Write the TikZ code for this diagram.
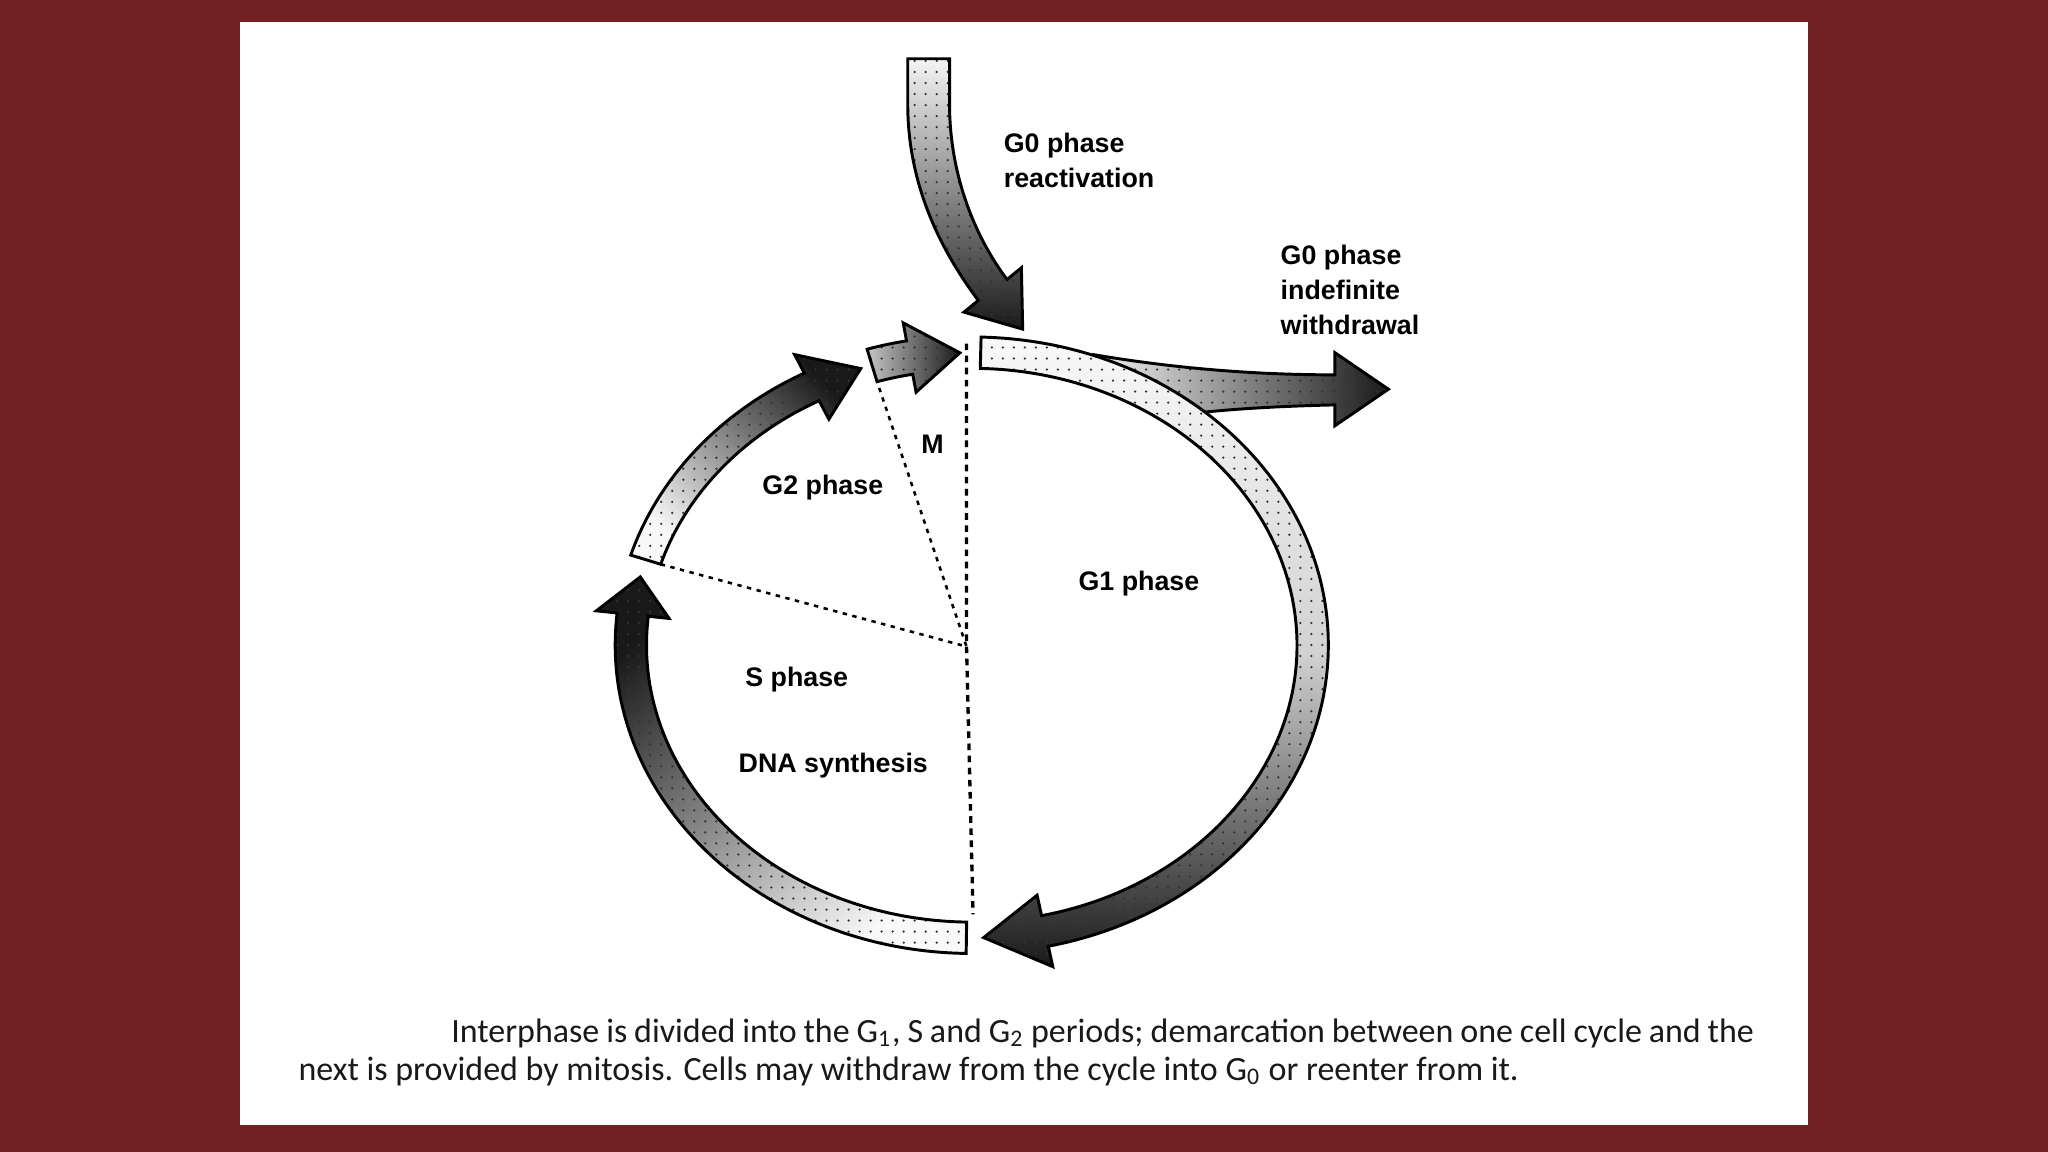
\documentclass[tikz,border=0pt]{standalone}
\usepackage{fontspec}
\setmainfont{Liberation Sans}
\newfontfamily\captionfont{Carlito}
\usetikzlibrary{patterns.meta}
\definecolor{framered}{RGB}{115,32,35}

\begin{document}
\begin{tikzpicture}[
        x=0.0125cm, y=-0.0125cm,
        phasetext/.style={font=\bfseries\fontsize{7.3}{9.6}\selectfont, align=left, inner sep=0pt},
        captiontext/.style={font=\captionfont\fontsize{9.25}{10}\selectfont, text=black!90, anchor=west, inner sep=0pt},
        band/.style={line width=.8pt,
            postaction={pattern={Dots[distance=3pt, radius=.34pt]}, pattern color=black!80},
            postaction={draw, line width=.8pt}},
        divider/.style={line width=.9pt, dash pattern=on 1.8pt off 1.5pt},
        spoke/.style={line width=.7pt, dash pattern=on 1.2pt off 1.5pt}
    ]
    \fill[framered] (0,0) rectangle (1568,882);
    \fill[white] (184,17) rectangle (1384,861);

    \path[band, left color=gray!10, right color=black!90]
        (840,272) .. controls (900,282) and (960,287) .. (1022,287)
        -- (1022,270) -- (1063,298) -- (1022,326) -- (1022,310)
        .. controls (980,311) and (940,313) .. (900,318) -- cycle;

    \path[band, top color=gray!8, bottom color=black!90]
        (695,45) -- (695,80) .. controls (695,140) and (719,190) .. (749,230)
        -- (738,239) -- (783,252) -- (782,205) -- (771,214)
        .. controls (744,178) and (727,130) .. (727,80) -- (727,45) -- cycle;

    \begin{scope}[shift={(744,494)}]
        \path[band, top color=gray!5, bottom color=black!90, middle color=gray!35]
            (-88.5:273 and 236) arc[start angle=-88.5, end angle=77.6, x radius=273, y radius=236]
            -- (77.6:289 and 252) -- (88:261 and 224) -- (77.6:233 and 196)
            -- (77.6:249 and 212) arc[start angle=77.6, end angle=-88.5, x radius=249, y radius=212]
            -- cycle;
        \path[band, top color=black!90, bottom color=gray!5, shading angle=40]
            (90.9:273 and 236) arc[start angle=90.9, end angle=186, x radius=273, y radius=236]
            -- (186:289 and 252) -- (193.5:261 and 224) -- (186:233 and 196)
            -- (186:249 and 212) arc[start angle=186, end angle=90.9, x radius=249, y radius=212]
            -- cycle;
        \path[band, top color=black!90, bottom color=gray!5, shading angle=-45]
            (197:273 and 236) arc[start angle=197, end angle=242, x radius=273, y radius=236]
            -- (242:289 and 252) -- (251:261 and 224) -- (242:233 and 196)
            -- (242:249 and 212) arc[start angle=242, end angle=197, x radius=249, y radius=212]
            -- cycle;
        \path[band, left color=gray!45, right color=black!90]
            (253:274 and 237) arc[start angle=253, end angle=259.5, x radius=274, y radius=237]
            -- (259.5:288 and 251) -- (268:261 and 224) -- (259.5:234 and 197)
            -- (259.5:248 and 211) arc[start angle=259.5, end angle=253, x radius=248, y radius=211]
            -- cycle;
        \coordinate (g2start) at (197:249 and 212);
        \coordinate (mstart) at (253:248 and 211);
    \end{scope}

    \coordinate (hub) at (740,495);
    \coordinate (mtop) at (740,263);
    \coordinate (mbottom) at (745,700);
    \draw[divider] (mtop) -- (hub) -- (mbottom);
    \draw[spoke] (g2start) -- (hub) -- (mstart);

    \node[phasetext, anchor=west] (reactlabel) at (768,123) {G0 phase\\reactivation};
    \node[phasetext, anchor=west] (withdrawlabel) at (980,222) {G0 phase\\indefinite\\withdrawal};
    \node[phasetext] (mlabel) at (714,340) {M};
    \node[phasetext] (g2label) at (630,373) {G2 phase};
    \node[phasetext] (g1label) at (872,447) {G1 phase};
    \node[phasetext] (slabel) at (610,520) {S phase};
    \node[phasetext] (dnalabel) at (638,586) {DNA synthesis};

    \node[captiontext] (captionone) at (345,791)
        {\makebox[12.4625cm][s]{Interphase is divided into the G\textsubscript{1}, S and G\textsubscript{2} periods; demarcation between one cell cycle and the}};
    \node[captiontext] (captiontwo) at (228,820)
        {next is provided by mitosis. Cells may withdraw from the cycle into G\textsubscript{0} or reenter from it.};
\end{tikzpicture}
\end{document}
